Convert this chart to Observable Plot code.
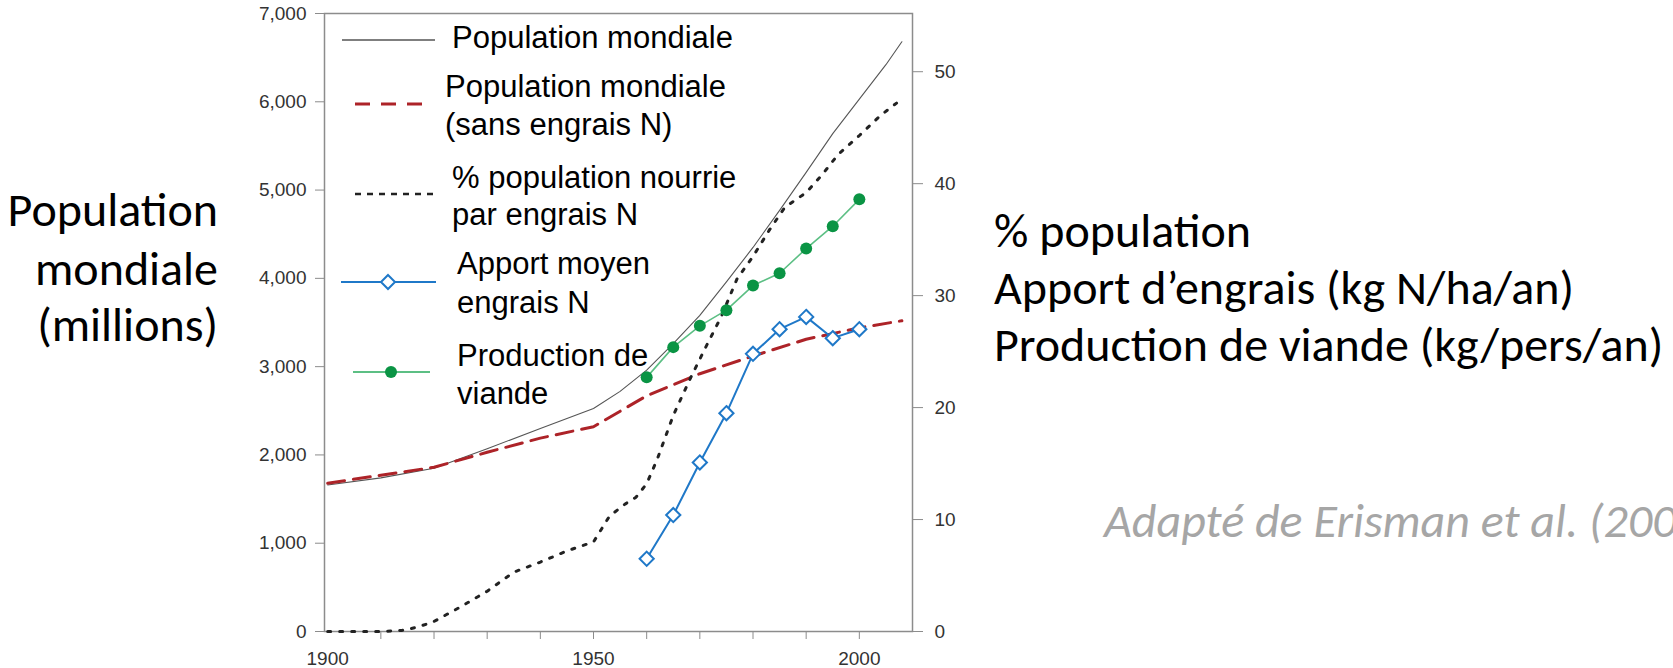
<!DOCTYPE html>
<html>
<head>
<meta charset="utf-8">
<script src="https://cdn.jsdelivr.net/npm/d3@7"></script>
<script src="https://cdn.jsdelivr.net/npm/@observablehq/plot@0.6"></script>
<style>
  body { margin: 0; background: #fff; }
  #wrap { position: relative; width: 1673px; height: 668px; overflow: hidden; }
  #wrap svg { position: absolute; left: 0; top: 0; }
</style>
</head>
<body>
<div id="wrap"></div>
<script>
// ---- Data ----
const popYears  = [1900,1910,1920,1930,1940,1950,1955,1960,1965,1970,1975,1980,1985,1990,1995,2000,2005,2008];
const popWorld  = [1660,1740,1850,2070,2300,2525,2720,2960,3260,3580,3960,4350,4770,5200,5640,6030,6420,6680];

const noNYears  = [1900,1910,1920,1930,1940,1950,1960,1970,1980,1990,2000,2008];
const popNoN    = [1680,1770,1860,2030,2190,2320,2670,2920,3120,3310,3440,3520];

const fedYears  = [1900,1905,1910,1914,1917,1920,1925,1930,1935,1940,1945,1950,1953,1956,1958,1960,1962,1965,1968,1971,1974,1977,1980,1983,1986,1990,1993,1996,2000,2004,2007];
const fedPct    = [0,0,0,0.1,0.4,0.9,2.2,3.6,5.3,6.2,7.2,8.0,10.3,11.4,12.0,13.2,15.4,19.3,22.4,25.3,28.1,31.5,33.5,35.8,37.9,39.2,40.8,42.6,44.3,46.1,47.2];

const fiveYears = [1960,1965,1970,1975,1980,1985,1990,1995,2000];
const fertN     = [6.5,10.4,15.1,19.5,24.8,27.0,28.1,26.2,27.0];
const meatProd  = [22.7,25.4,27.3,28.7,30.9,32.0,34.2,36.2,38.6];

const leftTicks  = [0,1000,2000,3000,4000,5000,6000,7000];
const rightTicks = [0,10,20,30,40,50];
const minorX     = [1910,1920,1930,1940,1950,1960,1970,1980,1990,2000];
const labelX     = [1900,1950,2000];

const legendLabels = [
  ["Population mondiale"],
  ["Population mondiale", "(sans engrais N)"],
  ["% population nourrie", "par engrais N"],
  ["Apport moyen", "engrais N"],
  ["Production de", "viande"]
];
const leftTitle  = ["Population", "mondiale", "(millions)"];
const rightTitle = ["% population", "Apport d\u2019engrais (kg N/ha/an)", "Production de viande (kg/pers/an)"];
const caption    = "Adapté de Erisman et al. (2008)";

// ---- Build ----
const W = 1673, H = 668;
const rightMax = 55.2;
const k = 7000 / rightMax; // right-axis units -> left-axis units

const zip = (xs, ys) => xs.map((x, i) => ({year: x, value: ys[i]}));
const popData  = zip(popYears, popWorld);
const noNData  = zip(noNYears, popNoN);
const fedData  = zip(fedYears, fedPct);
const fertData = zip(fiveYears, fertN);
const meatData = zip(fiveYears, meatProd);

const C = {
  pop: "#555555", noN: "#ad2328", fed: "#222222",
  fert: "#1f78c8", meatLine: "#5cbf84", meatDot: "#0a9444",
  frame: "#8c8c8c", text: "#333333"
};

const chart = Plot.plot({
  width: W, height: H,
  marginLeft: 324, marginRight: W - 912, marginTop: 13, marginBottom: H - 631,
  x: {domain: [1899.4, 2010]},
  y: {domain: [0, 7000]},
  style: {fontFamily: "'Liberation Sans', Arial, sans-serif", fontSize: "19px", background: "transparent", overflow: "visible"},
  marks: [
    Plot.frame({stroke: C.frame, strokeWidth: 1.5}),
    Plot.axisY(leftTicks, {tickFormat: d3.format(","), tickSize: 9, tickPadding: 9, stroke: C.frame, fill: C.text, fontSize: 19, label: null}),
    Plot.axisY(rightTicks.map(v => v * k), {anchor: "right", tickFormat: d => String(Math.round(d / k)), tickSize: 10, tickPadding: 12, stroke: C.frame, fill: C.text, fontSize: 19, label: null}),
    Plot.axisX(minorX, {tickSize: 8, tickFormat: () => "", stroke: C.frame, label: null}),
    Plot.axisX(labelX, {tickSize: 0, tickPadding: 20, tickFormat: d => String(d), fill: C.text, fontSize: 19, label: null}),
    Plot.line(popData, {x: "year", y: "value", stroke: C.pop, strokeWidth: 1.1}),
    Plot.line(noNData, {x: "year", y: "value", stroke: C.noN, strokeWidth: 3, strokeDasharray: "17,9"}),
    Plot.line(fedData, {x: "year", y: d => d.value * k, stroke: C.fed, strokeWidth: 3, strokeDasharray: "3,9"}),
    Plot.line(fertData, {x: "year", y: d => d.value * k, stroke: C.fert, strokeWidth: 2}),
    Plot.dot(fertData, {x: "year", y: d => d.value * k, symbol: "diamond2", r: 6.4, fill: "white", stroke: C.fert, strokeWidth: 2}),
    Plot.line(meatData, {x: "year", y: d => d.value * k, stroke: C.meatLine, strokeWidth: 1.6}),
    Plot.dot(meatData, {x: "year", y: d => d.value * k, r: 6, fill: C.meatDot, stroke: "none"})
  ]
});
document.getElementById("wrap").appendChild(chart);

// ---- Overlay: legend, side titles, caption ----
const ov = d3.select("#wrap").append("svg")
  .attr("width", W).attr("height", H)
  .style("pointer-events", "none");

// legend layout (positions are styling)
const legLayout = [
  {sy: 40,  sx0: 342, sx1: 435, tx: 452, base: [48]},
  {sy: 104, sx0: 355, sx1: 428, tx: 445, base: [97, 135]},
  {sy: 194, sx0: 355, sx1: 437, tx: 452, base: [188, 225]},
  {sy: 282, sx0: 341, sx1: 436, tx: 457, base: [274, 313]},
  {sy: 372, sx0: 353, sx1: 430, tx: 457, base: [366, 404]}
];
const legStyles = [
  {stroke: C.pop, w: 1.6, dash: null},
  {stroke: C.noN, w: 3, dash: "15,11"},
  {stroke: C.fed, w: 2.6, dash: "6,6"},
  {stroke: C.fert, w: 2, dash: null, marker: "diamond"},
  {stroke: C.meatLine, w: 2, dash: null, marker: "dot"}
];
legLayout.forEach((L, i) => {
  const s = legStyles[i];
  const ln = ov.append("line").attr("x1", L.sx0).attr("x2", L.sx1).attr("y1", L.sy).attr("y2", L.sy)
    .attr("stroke", s.stroke).attr("stroke-width", s.w);
  if (s.dash) ln.attr("stroke-dasharray", s.dash);
  const mx = (L.sx0 + L.sx1) / 2 - 0.5;
  if (s.marker === "diamond") {
    ov.append("path").attr("d", `M${mx},${L.sy-7}L${mx+7},${L.sy}L${mx},${L.sy+7}L${mx-7},${L.sy}Z`)
      .attr("fill", "white").attr("stroke", C.fert).attr("stroke-width", 2);
  }
  if (s.marker === "dot") {
    ov.append("circle").attr("cx", mx).attr("cy", L.sy).attr("r", 6).attr("fill", C.meatDot);
  }
  legendLabels[i].forEach((t, j) => {
    ov.append("text").attr("x", L.tx).attr("y", L.base[j]).text(t)
      .attr("font-family", "'Liberation Sans', Arial, sans-serif").attr("font-size", 31).attr("fill", "#000");
  });
});

const cal = "Carlito, Calibri, Lato, sans-serif";
const ltBase = [226, 285, 341];
leftTitle.forEach((t, i) => {
  ov.append("text").attr("x", 218).attr("y", ltBase[i]).attr("text-anchor", "end")
    .attr("font-family", cal).attr("font-size", 48).attr("fill", "#000").text(t);
});
const rtBase = [247, 304, 361];
rightTitle.forEach((t, i) => {
  ov.append("text").attr("x", 994).attr("y", rtBase[i])
    .attr("font-family", cal).attr("font-size", 48).attr("fill", "#000").text(t);
});
ov.append("text").attr("x", 1104).attr("y", 537)
  .attr("font-family", cal).attr("font-size", 48).attr("font-style", "italic").attr("fill", "#a6a6a6").text(caption);
</script>
</body>
</html>
